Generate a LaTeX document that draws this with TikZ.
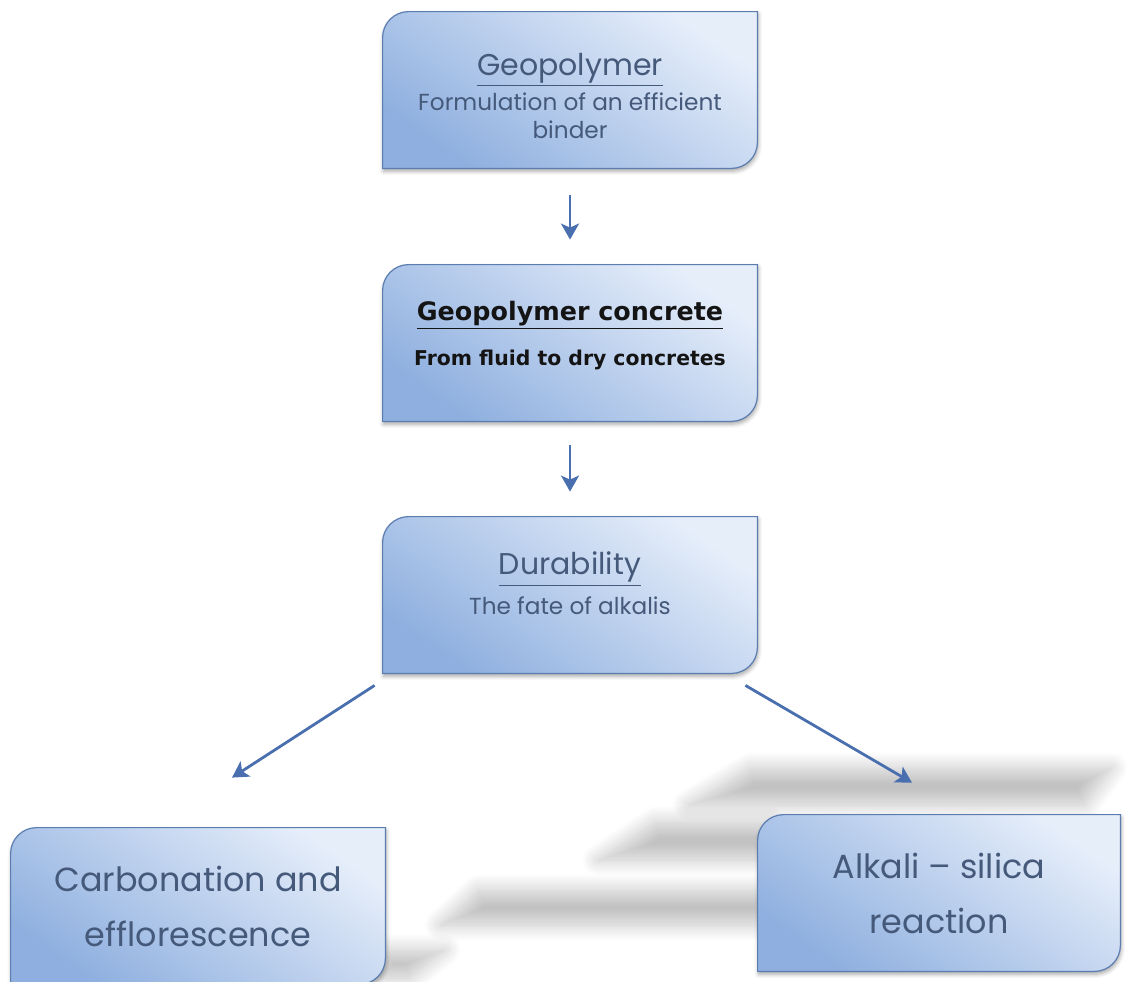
\documentclass[tikz,border=0pt]{standalone}
\usepackage{fontspec}
\setmainfont{Poppins}
\newfontfamily\heavyface{DejaVu Sans}
\usetikzlibrary{arrows.meta,backgrounds,shadows.blur}

\definecolor{cardlight}{HTML}{E6EEFA}
\definecolor{carddark}{HTML}{8EAFDF}
\definecolor{cardline}{HTML}{5B7DB0}
\definecolor{cardtext}{HTML}{45597A}
\definecolor{arrowblue}{HTML}{4A6FAE}

\newcommand{\titlefont}{\fontsize{15}{19}\selectfont}
\newcommand{\subfont}{\fontsize{11.6}{14}\selectfont}
\newcommand{\bigcardfont}{\fontsize{16.7}{27.5}\selectfont}

% outline with only two rounded corners
\newcommand{\cardshape}[1]{%
  \path[cardfill] (#1.south west) -- ([yshift=-13pt]#1.north west)
    arc[start angle=180, end angle=90, radius=13pt] -- (#1.north east)
    -- ([yshift=13pt]#1.south east)
    arc[start angle=0, end angle=-90, radius=13pt] -- cycle;}

\begin{document}
\begin{tikzpicture}[x=0.5pt, y=-0.5pt,
    card/.style={minimum width=187pt, minimum height=78pt, align=center,
                 text=cardtext, inner sep=0pt},
    cardfill/.style={draw=cardline, line width=0.6pt, top color=cardlight,
                     bottom color=carddark, shading angle=-35,
                     blur shadow={shadow xshift=0.4pt, shadow yshift=-1.4pt,
                                  shadow blur radius=2pt, shadow opacity=35}},
    streak/.style={blur shadow={shadow xshift=0pt, shadow yshift=0pt,
                                shadow blur radius=8pt, shadow opacity=24,
                                shadow blur steps=14}},
    flowarrow/.style={-{Stealth[length=8pt, width=9pt, inset=2pt]},
                      line width=1.4pt, draw=arrowblue}
  ]
  \useasboundingbox (0,0) rectangle (1129,981);

  \node[card, font=\subfont] (bind) at (570,90)
    {\rule{0pt}{17pt}\titlefont\underline{Geopolymer}\\[2pt]
     Formulation of an efficient\\ binder};
  \node[card, text=black!92, text depth=10pt] (conc) at (570,343)
    {\heavyface\bfseries\fontsize{12.7}{15}\selectfont\underline{Geopolymer concrete}\\[9pt]
     \heavyface\bfseries\fontsize{10.2}{12}\selectfont From fluid to dry concretes};
  \node[card, font=\subfont, text depth=12pt] (dura) at (570,595)
    {\titlefont\underline{Durability}\\[4pt] The fate of alkalis};
  \node[card, font=\bigcardfont] (carb) at (198,906)
    {Carbonation and\\ efflorescence};
  \node[card, font=\bigcardfont, minimum width=181pt] (asr) at (939,893)
    {Alkali -- silica\\ reaction};

  \begin{scope}[on background layer]
    % grey streaks behind the lower cards
    \path[streak] (688,805) -- (750,768) -- (1112,768) -- (1085,805) -- cycle;
    \path[streak] (598,860) -- (655,822) -- (770,822) -- (770,860) -- cycle;
    \path[streak] (440,925) -- (478,890) -- (770,890) -- (770,925) -- cycle;
    \path[streak] (380,950) -- (445,950) -- (410,978) -- (380,978) -- cycle;
    \foreach \n in {bind,conc,dura,carb,asr} {\cardshape{\n}}
  \end{scope}

  \draw[flowarrow, shorten <=13.5pt, shorten >=12.5pt] (bind) -- (conc);
  \draw[flowarrow, shorten <=12pt, shorten >=12.5pt] (conc) -- (dura);
  \draw[flowarrow] ([xshift=-4pt, yshift=-6pt]dura.south west)
    -- ([xshift=17pt, yshift=25pt]carb.north);
  \draw[flowarrow] ([xshift=-6pt, yshift=-6pt]dura.south east)
    -- ([xshift=-13.5pt, yshift=16pt]asr.north);
\end{tikzpicture}
\end{document}
